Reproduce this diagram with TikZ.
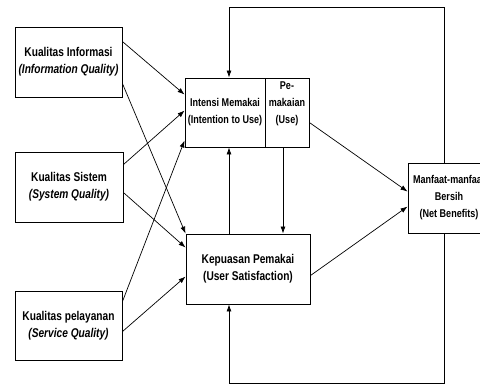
\documentclass[tikz,border=0pt]{standalone}
\usepackage{fontspec}
\setmainfont{Liberation Sans}[FakeStretch=0.8]
\usetikzlibrary{arrows.meta,calc}
\tikzset{
  box/.style={draw, line width=0.9pt, inner sep=0pt, align=center},
  big/.style={font=\bfseries\fontsize{12.7}{17}\selectfont},
  small/.style={font=\bfseries\fontsize{11.3}{17}\selectfont},
  arr/.style={-{Latex[length=7pt,width=5pt]}, line width=0.7pt},
  ln/.style={line width=0.7pt}
}
\begin{document}
\begin{tikzpicture}[x=1pt,y=-1pt]
\useasboundingbox (0,0) rectangle (480,386);
\node[box,big,minimum width=107pt,minimum height=70pt] (iq) at (68.5,62) {Kualitas Informasi\\\textit{(Information Quality)}};
\node[box,big,minimum width=108pt,minimum height=70pt] (sq) at (69,187) {Kualitas Sistem\\\textit{(System Quality)}};
\node[box,big,minimum width=107pt,minimum height=69pt] (svq) at (68.5,325.5) {Kualitas pelayanan\\\textit{(Service Quality)}};
\node[box,small,minimum width=80pt,minimum height=69pt] (int) at (225,112.5) {Intensi Memakai\\(Intention to Use)};
\node[box,minimum width=44pt,minimum height=69pt] (use) at (287,112.5) {};
\node[small,align=center,inner sep=0pt] (usetext) at (287,104) {Pe-\\makaian\\(Use)};
\node[box,big,minimum width=124pt,minimum height=70pt] (kep) at (248,269) {Kepuasan Pemakai\\(User Satisfaction)};
\node[box,small,minimum width=82pt,minimum height=70pt] (net) at (449,198) {Manfaat-manfaat\\Bersih\\(Net Benefits)};
\coordinate (t1) at (444,7);
\coordinate (t2) at (229,7);
\coordinate (b1) at (444,383);
\coordinate (b2) at (229,383);
% feedback loops
\draw[arr] (net.north -| t1) -- (t1) -- (t2) -- (t2 |- int.north);
\draw[arr] (net.south -| b1) -- (b1) -- (b2) -- (b2 |- kep.south);
% middle verticals
\draw[arr] (kep.north -| t2) -- (t2 |- int.south);
\draw[arr] (use.south -| 283,0) -- (kep.north -| 283,0);
% to net benefits
\draw[arr] ($(use.north east)+(0,45)$) -- ($(net.north west)+(0,29)$);
\draw[arr] ($(kep.north east)+(0,42)$) -- ($(net.north west)+(0,44)$);
% left inputs
\draw[arr] ($(iq.north east)+(0,15)$) -- ($(int.north west)+(0,17)$);
\draw[arr] ($(iq.north east)+(0,57)$) -- ($(kep.north west)+(0,0)$);
\draw[arr] ($(sq.north east)+(0,13)$) -- ($(int.north west)+(0,33)$);
\draw[arr] ($(sq.north east)+(0,41)$) -- ($(kep.north west)+(0,14)$);
\draw[arr] ($(svq.north east)+(0,11)$) -- ($(int.north west)+(0,63)$);
\draw[arr] ($(svq.north east)+(0,41)$) -- ($(kep.north west)+(0,43)$);
\end{tikzpicture}
\end{document}
